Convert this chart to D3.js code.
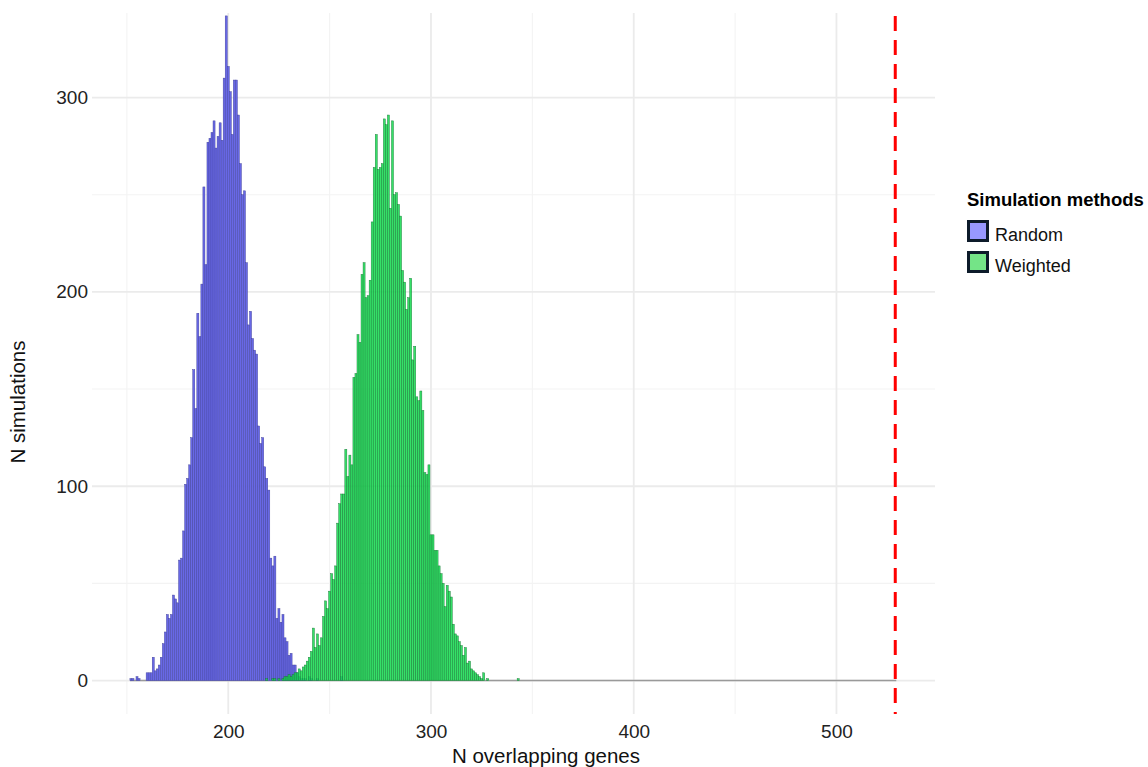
<!DOCTYPE html>
<html lang="en">
<head>
  <meta charset="UTF-8">
  <title>Simulated overlap histogram</title>
  <script src="https://d3js.org/d3.v7.min.js"></script>
  <style>
    body { margin: 0; background: #fff; }
    svg { display: block; }
    text { font-family: "Liberation Sans", Arial, sans-serif; }
  </style>
</head>
<body>
  <div id="chart"></div>

  <script>
    // histogram counts, one bin per integer value, starting at *Start
    const randomStart = 152;
    const randomCounts = [
      1, 1, 0, 2, 1, 0, 0, 0, 4, 4,          // 152-161
      4, 12, 5, 6, 8, 12, 19, 25, 34, 32,    // 162-171
      34, 44, 42, 40, 62, 63, 77, 101, 104, 111, // 172-181
      125, 160, 140, 189, 177, 204, 254, 214, 277, 279, // 182-191
      282, 288, 274, 280, 287, 278, 310, 342, 316, 303, // 192-201
      281, 309, 309, 291, 266, 250, 252, 215, 183, 190, // 202-211
      176, 170, 168, 131, 122, 125, 110, 104, 98, 63,   // 212-221
      59, 64, 32, 37, 30, 34, 22, 20, 13, 14,           // 222-231
      8, 8, 4, 2, 1, 1, 1, 0, 2, 1,                      // 232-241
      0, 0, 1, 0, 0, 0, 0, 0, 0, 0,                      // 242-251
      0, 0, 0, 0, 2                                      // 252-256
    ];

    const weightedStart = 219;
    const weightedCounts = [
      1, 0, 0, 1, 1, 0, 1, 0, 1, 2,          // 219-228
      2, 3, 2, 3, 4, 4, 6, 5, 7, 8,          // 229-238
      10, 12, 15, 27, 17, 24, 18, 22, 33, 41, // 239-248
      37, 46, 55, 52, 59, 81, 91, 96, 96, 119, // 249-258
      105, 116, 111, 156, 158, 178, 174, 209, 215, 197, // 259-268
      198, 206, 236, 264, 281, 263, 264, 266, 289, 286, // 269-278
      291, 243, 288, 250, 251, 245, 239, 211, 205, 191, // 279-288
      197, 207, 165, 172, 146, 144, 149, 139, 107, 106, // 289-298
      111, 75, 75, 67, 67, 59, 55, 50, 38, 49,          // 299-308
      46, 43, 29, 24, 23, 20, 18, 13, 17, 9,            // 309-318
      10, 6, 5, 4, 3, 2, 1, 4, 0, 1,                    // 319-328
      0, 0, 0, 0, 0, 0, 0, 0, 0, 0, 0, 0, 0, 0,          // 329-342
      1                                                 // 343
    ];

    const observedOverlap = 529;
    const histRange = [152, 529];

    const xTicks = [200, 300, 400, 500];
    const xMinor = [150, 250, 350, 450];
    const yTicks = [0, 100, 200, 300];
    const yMinor = [50, 150, 250];

    const methods = ["Random", "Weighted"];
    const legendTitle = "Simulation methods";
    const xTitle = "N overlapping genes";
    const yTitle = "N simulations";

    const width = 1148, height = 767;
    const panel = { left: 92, right: 935, top: 13, bottom: 714 };

    const svg = d3.select("#chart").append("svg")
      .attr("width", width)
      .attr("height", height);

    svg.append("rect").attr("width", width).attr("height", height).attr("fill", "#fff");

    const x = d3.scaleLinear().domain([132.8, 548.6]).range([panel.left, panel.right]);
    const y = d3.scaleLinear().domain([-17.2, 343.5]).range([panel.bottom, panel.top]);

    // grid
    const grid = svg.append("g");
    grid.selectAll(".xminor").data(xMinor).enter().append("line")
      .attr("x1", d => x(d)).attr("x2", d => x(d))
      .attr("y1", panel.top).attr("y2", panel.bottom)
      .attr("stroke", "#f3f3f3").attr("stroke-width", 1.1);
    grid.selectAll(".yminor").data(yMinor).enter().append("line")
      .attr("y1", d => y(d)).attr("y2", d => y(d))
      .attr("x1", panel.left).attr("x2", panel.right)
      .attr("stroke", "#f3f3f3").attr("stroke-width", 1.1);
    grid.selectAll(".xmajor").data(xTicks).enter().append("line")
      .attr("x1", d => x(d)).attr("x2", d => x(d))
      .attr("y1", panel.top).attr("y2", panel.bottom)
      .attr("stroke", "#ebebeb").attr("stroke-width", 1.8);
    grid.selectAll(".ymajor").data(yTicks).enter().append("line")
      .attr("y1", d => y(d)).attr("y2", d => y(d))
      .attr("x1", panel.left).attr("x2", panel.right)
      .attr("stroke", "#ebebeb").attr("stroke-width", 1.8);

    // zero-count bins show as an outline along the baseline
    svg.append("line")
      .attr("x1", x(histRange[0] - 0.5)).attr("x2", x(histRange[1] + 0.5))
      .attr("y1", y(0)).attr("y2", y(0))
      .attr("stroke", "#9a9a9a").attr("stroke-width", 1.4);

    const toBins = (start, counts) => counts
      .map((c, i) => ({ v: start + i, c }))
      .filter(d => d.c > 0);

    const drawHist = (bins, fill, stroke, opacity) => {
      svg.append("g").selectAll("rect").data(bins).enter().append("rect")
        .attr("x", d => x(d.v - 0.5))
        .attr("width", d => x(d.v + 0.5) - x(d.v - 0.5))
        .attr("y", d => y(d.c))
        .attr("height", d => y(0) - y(d.c))
        .attr("fill", fill)
        .attr("fill-opacity", opacity)
        .attr("stroke", stroke)
        .attr("stroke-width", 0.45);
    };

    drawHist(toBins(randomStart, randomCounts), "#6868e6", "#40409a", 1);
    drawHist(toBins(weightedStart, weightedCounts), "#12da4e", "#1d7a3a", 0.85);

    // observed value
    svg.append("line")
      .attr("x1", x(observedOverlap)).attr("x2", x(observedOverlap))
      .attr("y1", panel.top + 3).attr("y2", panel.bottom)
      .attr("stroke", "#ff0000").attr("stroke-width", 3)
      .attr("stroke-dasharray", "15,9");

    // axes
    const xAxis = svg.append("g")
      .attr("transform", `translate(0, ${panel.bottom})`)
      .call(d3.axisBottom(x).tickValues(xTicks).tickSize(0).tickPadding(11));
    const yAxis = svg.append("g")
      .attr("transform", `translate(${panel.left}, 0)`)
      .call(d3.axisLeft(y).tickValues(yTicks).tickSize(0).tickPadding(4));
    [xAxis, yAxis].forEach(a => {
      a.select(".domain").remove();
      a.selectAll("text")
        .attr("font-family", "Liberation Sans, Arial, sans-serif")
        .attr("font-size", 19).attr("fill", "#222");
    });

    svg.append("text")
      .attr("x", 546).attr("y", 763)
      .attr("text-anchor", "middle")
      .attr("font-size", 20.5).attr("fill", "#111")
      .text(xTitle);

    svg.append("text")
      .attr("transform", "translate(25, 402) rotate(-90)")
      .attr("text-anchor", "middle")
      .attr("font-size", 20.5).attr("fill", "#111")
      .text(yTitle);

    // legend
    const legendColors = ["#9898ff", "#74e487"];
    const legend = svg.append("g").attr("transform", "translate(967, 0)");
    legend.append("text")
      .attr("x", 0).attr("y", 206)
      .attr("font-size", 18.5).attr("font-weight", "bold").attr("fill", "#000")
      .text(legendTitle);
    const items = legend.selectAll(".item").data(methods).enter().append("g")
      .attr("transform", (d, i) => `translate(0, ${220 + i * 31})`);
    items.append("rect")
      .attr("x", 1.5).attr("y", 1.5).attr("width", 19).attr("height", 19)
      .attr("fill", (d, i) => legendColors[i])
      .attr("stroke", "#0d1b2a").attr("stroke-width", 3);
    items.append("text")
      .attr("x", 28).attr("y", 21)
      .attr("font-size", 18).attr("fill", "#111")
      .text(d => d);
  </script>
</body>
</html>
